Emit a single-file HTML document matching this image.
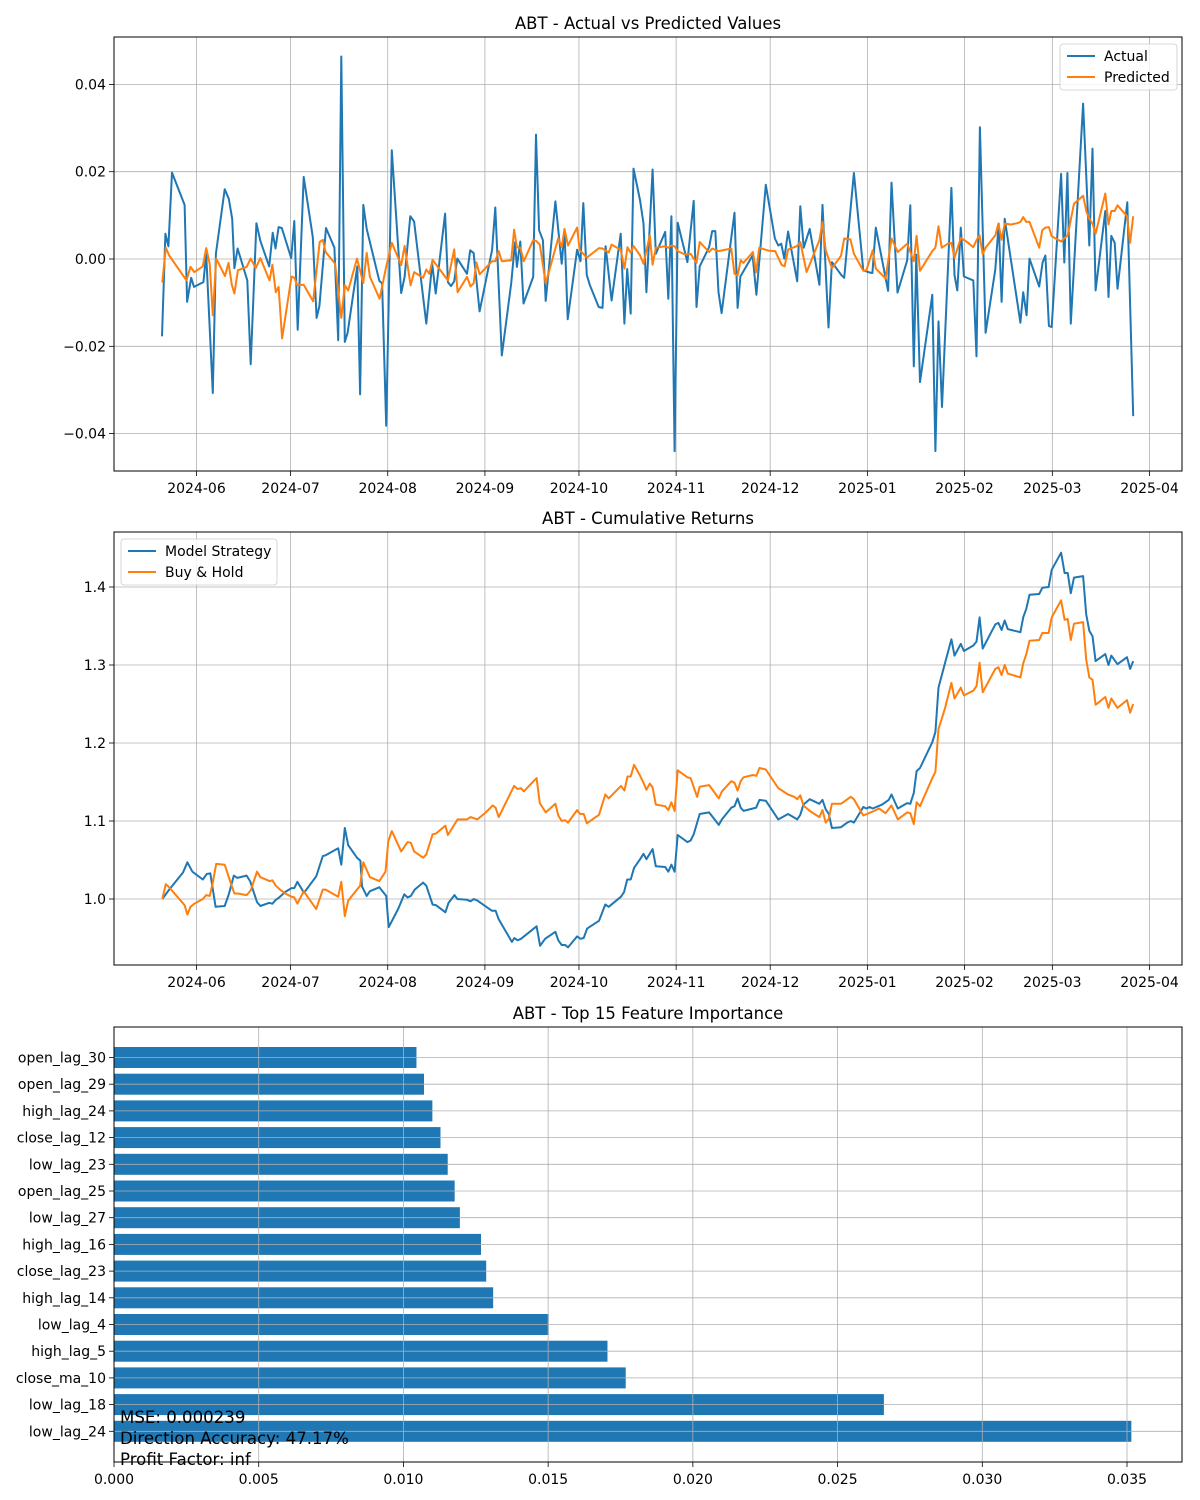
<!DOCTYPE html>
<html><head><meta charset="utf-8"><style>
body{margin:0;background:#fff;}
svg{display:block;font-family:"DejaVu Sans","Liberation Sans",sans-serif;}
</style></head><body>
<svg id="fig" width="1200" height="1500" viewBox="0 0 1200 1500" xmlns="http://www.w3.org/2000/svg">
<rect x="0" y="0" width="1200" height="1500" fill="#fff"/>
<g id="p1"></g>
<g id="p2"></g>
<g id="p3"></g>
</svg>
<script>
// ---- data: days since 2024-05-21 ----
const dateTickDays=[11,41,72,103,133,164,194,225,256,284,315];
const dateTickLabels=["2024-06","2024-07","2024-08","2024-09","2024-10","2024-11","2024-12","2025-01","2025-02","2025-03","2025-04"];

const actualDays=[0,1.1,2.05,3.2,7.2,8.0,9.3,10.2,13.2,14.1,16.2,17.2,20.0,21.3,22.4,23.1,24.1,27.2,28.3,30.1,31.4,34.2,35.3,36.2,37.2,38.2,41.2,42.2,43.3,45.2,48.1,49.3,50.2,52.3,55.0,56.2,57.2,58.3,59.2,62.3,63.2,64.2,65.3,69.3,70.2,71.5,73.3,76.3,77.4,79.2,80.4,84.3,86.2,87.3,90.3,91.2,92.2,93.2,94.2,97.3,98.3,99.4,101.3,105.3,106.3,108.4,111.4,112.6,113.2,114.3,115.3,118.4,119.3,120.3,121.5,122.4,125.5,127.5,128.4,129.4,132.4,133.5,134.4,135.5,136.5,139.3,140.5,141.5,143.4,146.3,147.5,148.4,149.5,150.4,
152.5,153.6,154.5,156.5,157.5,160.5,161.5,162.5,163.5,164.5,167.6,169.6,170.5,171.5,174.5,175.5,176.5,177.5,178.5,182.6,183.6,184.5,188.4,189.6,192.6,195.5,196.6,197.5,198.5,199.7,200.6,202.6,203.6,204.7,206.6,209.7,210.7,212.6,213.7,216.7,217.6,220.7,223.7,225.7,226.6,227.7,231.6,232.7,234.6,237.7,238.7,239.8,240.6,241.8,245.7,246.7,247.7,248.8,251.8,252.8,253.7,254.8,255.8,258.8,259.8,260.9,262.7,265.8,266.9,267.8,268.8,273.8,274.7,275.8,276.7,279.8,280.9,281.8,282.9,283.8,286.8,287.8,288.8,289.9,293.8,295.8,296.8,297.8,300.9,301.9,302.8,303.9,304.8,307.9,309.8];
const actualVals=[-0.0177,0.0058,0.0029,0.0198,0.0124,-0.0098,-0.0043,-0.0064,-0.0053,0.0011,-0.0307,0.0012,0.0160,0.0138,0.0092,-0.0021,0.0024,-0.0049,-0.0241,0.0082,0.0041,-0.0017,0.0060,0.0024,0.0073,0.0071,0.0002,0.0087,-0.0162,0.0188,0.0050,-0.0135,-0.0108,0.0071,0.0026,-0.0186,0.0464,-0.0190,-0.0169,-0.0017,-0.0310,0.0124,0.0069,-0.0050,-0.0056,-0.0382,0.0249,-0.0078,-0.0041,0.0098,0.0086,-0.0148,-0.0011,-0.0079,0.0104,-0.0053,-0.0062,-0.0051,0.0001,-0.0034,0.0020,0.0014,-0.0120,0.0021,0.0118,-0.0221,-0.0056,0.0038,-0.0018,0.0040,-0.0102,-0.0041,0.0285,0.0066,0.0043,-0.0096,0.0132,-0.0011,0.0064,-0.0138,0.0021,-0.0005,0.0128,-0.0037,-0.0060,-0.0110,-0.0112,0.0029,-0.0095,0.0058,-0.0148,-0.0023,-0.0125,0.0207,
0.0134,0.0081,-0.0076,0.0205,0.0012,0.0062,-0.0091,0.0098,-0.0440,0.0083,-0.0007,0.0133,-0.0110,-0.0017,0.0027,0.0064,0.0064,-0.0076,-0.0124,0.0106,-0.0112,-0.0040,0.0008,-0.0082,0.0170,0.0047,0.0031,0.0035,0.0001,0.0063,0.0027,-0.0051,0.0121,0.0026,0.0069,-0.0059,0.0124,-0.0157,-0.0007,-0.0037,-0.0043,0.0197,-0.0026,-0.0031,-0.0032,0.0072,-0.0073,0.0175,-0.0077,-0.0003,0.0123,-0.0246,0.0010,-0.0282,-0.0082,-0.0440,-0.0143,-0.0339,0.0163,-0.0037,-0.0072,0.0072,-0.0040,-0.0049,-0.0223,0.0302,-0.0169,-0.0024,0.0081,-0.0098,0.0092,-0.0146,-0.0076,-0.0129,0.0001,-0.0063,-0.0008,0.0008,-0.0153,-0.0156,0.0195,-0.0008,0.0197,-0.0148,0.0356,0.0031,0.0253,-0.0072,0.0110,-0.0087,0.0053,0.0037,-0.0068,0.0130,-0.0360];

const predDays=[0.1,1.2,2.3,7.8,9.1,10.3,13.0,14.1,15.2,16.2,17.3,20.1,21.2,22.3,23.1,24.2,27.0,28.3,29.9,31.4,34.3,35.2,36.3,37.2,38.3,41.3,42.2,43.2,45.2,48.2,50.3,51.3,52.2,55.2,57.2,58.3,59.4,62.2,64.2,65.3,66.3,69.4,71.4,73.3,76.3,77.4,79.3,80.4,83.3,84.3,85.3,86.3,91.2,93.2,94.3,97.3,98.4,99.4,100.3,101.3,105.3,106.3,107.4,108.4,111.4,112.3,113.2,114.3,115.4,118.4,119.4,120.5,122.4,126.4,127.5,128.4,129.5,132.4,133.2,135.5,139.4,140.5,142.5,143.4,146.3,147.5,148.5,149.5,150.4,
152.5,153.6,155.6,156.5,157.5,160.5,161.5,162.5,163.5,164.5,166.6,167.6,168.6,170.5,171.5,174.5,175.5,176.5,177.5,181.6,182.6,183.6,184.6,185.5,188.5,189.5,190.5,192.6,193.6,195.6,197.6,198.6,199.7,201.7,202.6,203.6,205.6,209.7,210.7,211.7,213.7,216.6,217.6,219.6,220.7,223.7,224.7,226.7,227.7,230.8,232.7,234.7,237.7,239.8,240.7,241.8,245.7,246.7,247.7,248.7,250.7,251.8,252.8,254.8,256.8,258.8,259.8,260.8,261.8,262.8,265.8,266.8,267.8,268.8,270.8,272.8,273.8,274.7,275.7,276.7,279.8,280.8,281.8,282.9,283.8,286.8,287.9,288.9,290.9,293.8,294.9,295.8,296.8,297.8,300.9,301.9,302.8,303.9,304.8,307.8,308.8,309.8];
const predVals=[-0.0054,0.0026,0.0008,-0.0049,-0.0018,-0.0030,-0.0017,0.0025,-0.0011,-0.0129,0.0001,-0.0039,-0.0009,-0.0060,-0.0079,-0.0026,-0.0018,0.0001,-0.0021,0.0002,-0.0049,-0.0013,-0.0076,-0.0064,-0.0182,-0.0040,-0.0043,-0.0060,-0.0059,-0.0097,0.0039,0.0044,0.0016,-0.0011,-0.0135,-0.0060,-0.0072,0.0001,-0.0055,0.0014,-0.0041,-0.0091,-0.0022,0.0037,-0.0014,0.0030,-0.0060,-0.0030,-0.0043,-0.0024,-0.0034,-0.0002,-0.0049,0.0022,-0.0076,-0.0041,-0.0063,-0.0056,-0.0008,-0.0035,-0.0005,-0.0005,0.0018,-0.0005,-0.0003,0.0067,0.0027,0.0026,-0.0005,0.0043,0.0041,0.0033,-0.0056,0.0048,0.0027,0.0069,0.0031,0.0072,0.0021,0.0003,0.0025,0.0024,0.0015,0.0033,0.0021,-0.0022,0.0027,0.0014,0.0030,
0.0008,-0.0011,0.0054,-0.0013,0.0026,0.0029,0.0026,0.0031,0.0029,0.0018,0.0011,0.0011,0.0012,-0.0009,0.0039,0.0016,0.0024,0.0021,0.0018,0.0024,-0.0034,-0.0038,-0.0003,-0.0009,0.0016,-0.0031,0.0026,0.0021,0.0019,0.0018,-0.0013,-0.0017,0.0022,0.0027,0.0030,0.0039,-0.0030,0.0043,0.0085,0.0020,-0.0021,0.0007,0.0047,0.0045,0.0012,-0.0027,-0.0026,0.0020,-0.0022,-0.0045,0.0047,0.0016,0.0035,-0.0005,0.0053,-0.0027,0.0018,0.0026,0.0075,0.0026,0.0035,0.0037,0.0003,0.0048,0.0039,0.0027,0.0043,0.0054,0.0011,0.0027,0.0054,0.0081,0.0044,0.0081,0.0079,0.0082,0.0085,0.0096,0.0085,0.0085,0.0026,0.0066,0.0072,0.0073,0.0052,0.0040,0.0048,0.0054,0.0127,0.0145,0.0108,0.0092,0.0081,0.0058,0.0150,0.0079,0.0110,0.0110,0.0123,0.0098,0.0037,0.0098];

const stratDays=[0.1,2.3,6.7,8.1,9.7,13.0,14.3,15.4,17.1,20.0,21.3,22.9,24.0,27.0,28.1,30.3,31.4,34.1,35.2,36.3,37.4,39.3,41.3,42.2,43.2,45.3,49.2,51.3,52.2,56.2,57.2,58.3,59.4,62.2,63.3,63.8,65.3,66.3,69.3,71.5,72.3,75.3,77.3,78.3,79.4,80.6,83.3,84.3,86.3,87.4,90.4,91.4,93.3,94.2,97.3,98.4,99.5,100.6,105.2,106.4,107.4,111.6,112.4,113.4,114.5,119.5,120.6,122.2,125.5,126.4,127.5,128.6,129.5,132.4,133.5,134.5,135.6,139.4,141.4,142.5,146.4,147.4,148.4,149.5,150.6,
152.5,153.6,154.5,156.5,157.5,160.5,161.5,162.5,163.5,164.5,167.6,168.6,169.6,171.5,174.5,177.6,178.6,181.6,182.6,183.6,184.6,185.5,188.5,189.5,190.6,192.6,195.6,196.6,199.7,202.6,203.6,204.6,206.6,209.7,210.7,211.7,212.7,213.7,216.6,218.6,219.7,220.7,223.7,224.7,225.7,226.7,229.7,231.8,232.7,234.7,237.7,238.7,239.8,240.7,241.8,245.7,246.7,247.7,249.8,251.8,252.8,254.8,255.8,258.8,259.8,260.8,261.8,265.8,266.8,267.8,268.8,269.8,273.8,274.7,275.7,276.7,279.8,280.8,282.8,283.8,286.8,287.9,288.9,289.9,290.9,293.8,294.8,295.8,296.8,297.8,300.9,301.9,302.8,304.8,307.8,308.8,309.8];
const stratVals=[1.000,1.012,1.034,1.047,1.035,1.025,1.032,1.033,0.990,0.991,1.006,1.030,1.027,1.030,1.023,0.996,0.991,0.995,0.994,0.999,1.002,1.009,1.014,1.014,1.022,1.008,1.029,1.055,1.056,1.065,1.044,1.091,1.069,1.053,1.049,1.016,1.004,1.010,1.015,1.004,0.964,0.987,1.006,1.002,1.004,1.012,1.021,1.017,0.993,0.992,0.983,0.995,1.005,1.000,0.999,0.997,1.000,0.998,0.985,0.985,0.974,0.945,0.950,0.947,0.949,0.965,0.940,0.949,0.958,0.947,0.941,0.941,0.938,0.952,0.949,0.950,0.962,0.972,0.993,0.990,1.003,1.009,1.025,1.025,1.040,
1.051,1.058,1.051,1.064,1.042,1.041,1.035,1.044,1.035,1.082,1.073,1.075,1.083,1.109,1.111,1.095,1.102,1.117,1.119,1.129,1.117,1.113,1.116,1.117,1.127,1.126,1.108,1.102,1.109,1.102,1.108,1.121,1.128,1.122,1.127,1.115,1.109,1.091,1.092,1.098,1.100,1.098,1.118,1.116,1.118,1.116,1.121,1.127,1.134,1.116,1.123,1.122,1.136,1.164,1.168,1.201,1.214,1.271,1.303,1.333,1.312,1.327,1.318,1.325,1.330,1.361,1.321,1.352,1.354,1.345,1.357,1.346,1.342,1.361,1.372,1.390,1.391,1.399,1.400,1.422,1.444,1.418,1.418,1.392,1.412,1.414,1.365,1.344,1.337,1.305,1.314,1.300,1.312,1.301,1.310,1.295,1.305];

const holdDays=[0.1,1.2,2.3,7.2,8.1,9.1,10.3,13.0,14.1,15.2,16.2,17.3,20.0,22.3,23.1,24.2,27.0,28.3,30.3,31.4,34.3,35.2,36.3,37.4,39.3,41.3,42.2,43.2,45.2,49.2,51.3,52.2,56.2,57.2,58.3,59.4,63.2,64.2,66.3,69.3,71.3,72.2,73.3,76.3,78.3,79.4,80.4,83.3,84.3,86.3,87.4,90.4,91.2,94.3,97.3,98.4,100.6,103.3,105.5,106.4,107.4,112.3,113.4,114.5,115.4,119.5,120.5,122.4,125.5,126.4,127.5,128.6,129.5,132.4,133.4,134.5,135.5,139.4,141.4,142.5,146.4,147.5,148.5,149.5,150.6,
152.5,153.6,154.5,155.6,156.5,157.5,160.5,161.5,162.5,163.5,164.5,167.6,168.6,170.7,171.5,174.5,177.6,178.6,181.6,182.6,183.6,184.6,185.5,188.5,189.6,190.6,192.6,196.6,199.7,201.7,202.6,203.6,204.6,206.6,209.7,210.7,211.7,212.7,213.7,216.6,219.7,220.7,223.7,226.7,228.7,230.8,232.7,234.7,237.7,238.7,239.8,240.7,241.8,245.7,246.7,247.7,249.8,251.8,252.8,254.8,255.8,258.8,259.8,260.8,261.8,265.8,266.8,267.8,268.8,269.8,273.8,274.7,275.7,276.7,279.8,280.8,282.8,283.8,286.8,287.9,288.9,289.9,290.9,293.8,294.8,295.8,296.8,297.8,300.9,301.9,302.8,304.8,307.8,308.8,309.8];
const holdVals=[1.000,1.019,1.015,0.992,0.980,0.990,0.994,1.000,1.005,1.004,1.021,1.045,1.044,1.016,1.007,1.007,1.005,1.011,1.035,1.028,1.023,1.024,1.017,1.013,1.007,1.003,1.002,0.994,1.010,0.987,1.012,1.012,1.003,1.022,0.978,0.998,1.017,1.047,1.028,1.023,1.035,1.074,1.087,1.061,1.073,1.072,1.061,1.053,1.057,1.083,1.084,1.094,1.082,1.102,1.102,1.105,1.102,1.111,1.120,1.117,1.105,1.145,1.141,1.142,1.138,1.155,1.123,1.111,1.122,1.107,1.100,1.101,1.098,1.114,1.109,1.109,1.097,1.108,1.134,1.129,1.145,1.139,1.157,1.157,1.172,
1.158,1.149,1.140,1.148,1.143,1.121,1.119,1.114,1.124,1.113,1.165,1.156,1.155,1.131,1.144,1.146,1.129,1.138,1.151,1.149,1.139,1.151,1.156,1.159,1.158,1.168,1.166,1.142,1.134,1.131,1.128,1.133,1.120,1.113,1.105,1.114,1.098,1.103,1.122,1.122,1.131,1.128,1.107,1.112,1.116,1.110,1.120,1.102,1.111,1.110,1.096,1.124,1.119,1.155,1.163,1.218,1.245,1.277,1.257,1.271,1.261,1.267,1.273,1.303,1.265,1.295,1.297,1.287,1.300,1.289,1.284,1.302,1.314,1.331,1.332,1.341,1.341,1.361,1.383,1.358,1.359,1.332,1.353,1.355,1.307,1.284,1.281,1.249,1.259,1.245,1.257,1.245,1.255,1.239,1.250];

const features=["open_lag_30","open_lag_29","high_lag_24","close_lag_12","low_lag_23","open_lag_25","low_lag_27","high_lag_16","close_lag_23","high_lag_14","low_lag_4","high_lag_5","close_ma_10","low_lag_18","low_lag_24"];
const importances=[0.01045,0.01071,0.01100,0.01128,0.01153,0.01177,0.01195,0.01268,0.01286,0.01310,0.01502,0.01705,0.01768,0.02660,0.03515];
const impTicks=[0,0.005,0.010,0.015,0.020,0.025,0.030,0.035];
const y1Ticks=[-0.04,-0.02,0,0.02,0.04];
const y2Ticks=[1.0,1.1,1.2,1.3,1.4];

const NS="http://www.w3.org/2000/svg";
function mk(parent,tag,attrs,text){const e=document.createElementNS(NS,tag);for(const k in attrs)e.setAttribute(k,attrs[k]);if(text!==undefined)e.textContent=text;parent.appendChild(e);return e;}
const L=114,R=1182;
const xd=d=>162+d*3.135;
const C1="#1f77b4",C2="#ff7f0e",GRID="#b0b0b0";
const FS=14;

function dateAxes(g,top,bot){
  dateTickDays.forEach((d,i)=>{
    const x=xd(d);
    const gl=mk(g,"line",{x1:x,x2:x,y1:top,y2:bot,stroke:GRID,"stroke-width":0.8});
    
    
    mk(g,"line",{x1:x,x2:x,y1:bot,y2:bot+5,stroke:"#000","stroke-width":0.8});
    const t=mk(g,"text",{x:x,y:bot+22,"font-size":FS,"text-anchor":"middle"},dateTickLabels[i]);
    
    
  });
}
function yAxis(g,ticks,fy,fmt){
  ticks.forEach(v=>{
    const y=fy(v);
    const gl=mk(g,"line",{x1:L,x2:R,y1:y,y2:y,stroke:GRID,"stroke-width":0.8});
    
    
    mk(g,"line",{x1:L-5,x2:L,y1:y,y2:y,stroke:"#000","stroke-width":0.8});
    const t=mk(g,"text",{x:L-8,y:y+5,"font-size":FS,"text-anchor":"end"},fmt(v));
    
    
  });
}
function series(g,days,vals,fy,color,name){
  const p=days.map((d,i)=>xd(d).toFixed(1)+","+fy(vals[i]).toFixed(1)).join(" ");
  const pl=mk(g,"polyline",{points:p,fill:"none",stroke:color,"stroke-width":2,"stroke-linejoin":"round"});
  
  
}
function frame(g,top,bot){mk(g,"rect",{x:L,y:top,width:R-L,height:bot-top,fill:"none",stroke:"#000","stroke-width":1});}
function title(g,y,txt){const t=mk(g,"text",{x:(L+R)/2,y:y,"font-size":16.5,"text-anchor":"middle"},txt);}
function legend(g,x,y,w,items){
  const box=mk(g,"rect",{x:x,y:y,width:w,height:46,rx:3,fill:"#fff","fill-opacity":0.8,stroke:"#ccc","stroke-width":0.8});
  
  
  items.forEach((it,i)=>{
    const yy=y+12+i*21;
    mk(g,"line",{x1:x+7,x2:x+35,y1:yy,y2:yy,stroke:it[1],"stroke-width":2});
    const t=mk(g,"text",{x:x+44,y:yy+5,"font-size":FS},it[0]);
    
    
  });
}

// Panel 1
const g1=document.getElementById("p1");
const fy1=v=>259-v/0.02*87.3;
title(g1,29,"ABT - Actual vs Predicted Values");
dateAxes(g1,37,471);
yAxis(g1,y1Ticks,fy1,v=>v===0?"0.00":(v<0?"\u2212":"")+Math.abs(v).toFixed(2));
series(g1,actualDays,actualVals,fy1,C1,"actual-line");
series(g1,predDays,predVals,fy1,C2,"predicted-line");
frame(g1,37,471);
legend(g1,1060,44,117,[["Actual",C1],["Predicted",C2]]);

// Panel 2
const g2=document.getElementById("p2");
const fy2=v=>899-(v-1)*780;
title(g2,524,"ABT - Cumulative Returns");
dateAxes(g2,532,965);
yAxis(g2,y2Ticks,fy2,v=>v.toFixed(1));
series(g2,stratDays,stratVals,fy2,C1,"model-strategy-line");
series(g2,holdDays,holdVals,fy2,C2,"buy-hold-line");
frame(g2,532,965);
legend(g2,121,539,156,[["Model Strategy",C1],["Buy & Hold",C2]]);

// Panel 3
const g3=document.getElementById("p3");
const fx3=v=>L+v*28943;
const fb=i=>1057.5+i*26.7;
title(g3,1019,"ABT - Top 15 Feature Importance");
features.forEach((f,i)=>{
  const b=mk(g3,"rect",{x:L,y:fb(i)-10.5,width:fx3(importances[i])-L,height:21,fill:C1});
  
  
  mk(g3,"line",{x1:L-5,x2:L,y1:fb(i),y2:fb(i),stroke:"#000","stroke-width":0.8});
  const t=mk(g3,"text",{x:L-8,y:fb(i)+5,"font-size":FS,"text-anchor":"end"},f);
  
  
});
features.forEach((f,i)=>{
  const gl=mk(g3,"line",{x1:L,x2:R,y1:fb(i),y2:fb(i),stroke:GRID,"stroke-width":0.8});
  
  
});
impTicks.forEach(v=>{
  const x=fx3(v);
  const gl=mk(g3,"line",{x1:x,x2:x,y1:1027,y2:1462,stroke:GRID,"stroke-width":0.8});
  
  
  mk(g3,"line",{x1:x,x2:x,y1:1462,y2:1467,stroke:"#000","stroke-width":0.8});
  const t=mk(g3,"text",{x:x,y:1484,"font-size":FS,"text-anchor":"middle"},v.toFixed(3));
  
  
});
["MSE: 0.000239","Direction Accuracy: 47.17%","Profit Factor: inf"].forEach((s,i)=>{
  const t=mk(g3,"text",{x:120,y:1423+i*21,"font-size":16.6},s);
  
  
});
frame(g3,1027,1462);
</script>
</body></html>
